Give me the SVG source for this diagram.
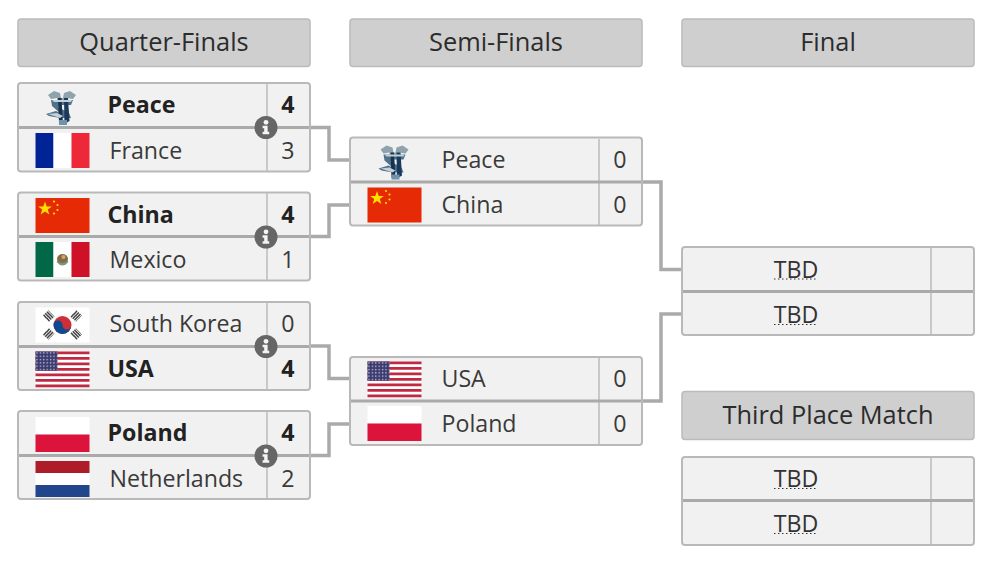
<svg xmlns="http://www.w3.org/2000/svg" width="993" height="567" viewBox="0 0 993 567">
<style>
text{font-family:"Open Sans","Noto Sans","Liberation Sans",sans-serif;fill:#3a3a3a}
.h{fill:#cfcfcf;stroke:#bbb;stroke-width:1.5}
.ht{font-size:25.4px;text-anchor:middle;fill:#2c2c2c}
.b{fill:#f1f1f1;stroke:#b9b9b9;stroke-width:2}
.d{stroke:#aaa;stroke-width:3.2;fill:none}
.v{stroke:#bbb;stroke-width:1.5;fill:none}
.n{font-size:23.2px}
.w{font-size:23.2px;font-weight:700;fill:#222}
.s{font-size:23.2px;text-anchor:middle}
.sw{font-size:23.2px;text-anchor:middle;font-weight:700;fill:#222}
.t{font-size:23.2px;text-anchor:middle;fill:#333}
.u{stroke:#333;stroke-width:1.2;stroke-dasharray:1.500 2.500}
.c{stroke:#aaa;stroke-width:3.5;fill:none}
</style>
<defs>
<g id="info"><circle r="11.500" fill="#666"/><circle cy="-5.200" r="2.400" fill="#f4f4f4"/><path d="M-3.400-1.800H1.600V4.200H3.200V6.800H-3.400V4.200H-1.800V.8H-3.400Z" fill="#f4f4f4"/></g>
<g id="logo">
<path d="M2 5 8 1 14 3 15 8H17L18 3 24 1 30 5 27 9 21 8V11H11V8L5 9Z" fill="#8ea3ae"/>
<path d="M5 10H27L25 15H14L12 17 23 23 25 28H14L3 26 0 24 10 21 14 23 6 16Z" fill="#4f7189"/>
<path d="M12 8H15.500L17 34 13 33Z" fill="#16324f"/>
<path d="M18 8H22L23.500 31 18.500 34Z" fill="#1b3a5a"/>
<path d="M6 10H26L25 12H8ZM2 24 11 23 17 26 14 28Z" fill="#c3d0d8"/>
<path d="M13 30H21L21 35H13Z" fill="#6f93ad"/>
</g>
<g id="fr"><rect width="18" height="35" fill="#002395"/><rect x="18" width="18" height="35" fill="#fff"/><rect x="36" width="18" height="35" fill="#ed2939"/></g>
<g id="cn"><rect width="54" height="35" fill="#e52a05"/><path d="M9.500 3.500 11.200 8.400 16.400 8.500 12.300 11.600 13.800 16.600 9.500 13.600 5.200 16.600 6.700 11.600 2.600 8.500 7.800 8.400Z" fill="#ffde00"/><circle cx="18.500" cy="3.500" r="1.100" fill="#ffde00"/><circle cx="22" cy="7" r="1.100" fill="#ffde00"/><circle cx="22" cy="12" r="1.100" fill="#ffde00"/><circle cx="18.500" cy="15.500" r="1.100" fill="#ffde00"/></g>
<g id="mx"><rect width="18" height="35" fill="#006847"/><rect x="18" width="18" height="35" fill="#fff"/><rect x="36" width="18" height="35" fill="#ce1126"/><ellipse cx="27" cy="17" rx="5.500" ry="5" fill="#8a6a45"/><path d="M21 20Q27 27 33 20L32 19Q27 23 22 19Z" fill="#6f9a80"/><circle cx="28" cy="15" r="2" fill="#c9a877"/></g>
<g id="kr"><rect width="54" height="35" fill="#fff"/><circle cx="27" cy="17.500" r="9" fill="#cd2e3a"/><path d="M18 17.500A4.500 4.500 0 0 1 27 17.500A4.500 4.500 0 0 0 36 17.500A9 9 0 0 1 18 17.500Z" fill="#0f4a8f"/><g stroke="#444" stroke-width="4.500" stroke-dasharray="1.500 .8"><path d="M9 9.500 14.500 4.500M12 12.500 17.500 7.500"/><path d="M39.500 4.500 45 9.500M36.500 7.500 42 12.500"/><path d="M9 25.500 14.500 30.500M12 22.500 17.500 27.500"/><path d="M39.500 30.500 45 25.500M36.500 27.500 42 22.500"/></g></g>
<pattern id="st" width="3.400" height="3.300" patternUnits="userSpaceOnUse"><rect width="3.400" height="3.300" fill="#3c3b6e"/><circle cx="1.500" cy="1.500" r=".8" fill="#b9b9d6"/></pattern>
<g id="us"><rect width="54" height="35.700" fill="#fff"/><path d="M0 1.400H54M0 6.900H54M0 12.400H54M0 17.900H54M0 23.300H54M0 28.800H54M0 34.300H54" stroke="#bf2a42" stroke-width="2.800"/><rect width="22" height="19.200" fill="url(#st)"/></g>
<g id="pl"><rect width="54" height="17.500" fill="#fff"/><rect y="17.500" width="54" height="17.500" fill="#dc143c"/></g>
<g id="nl"><rect width="54" height="12" fill="#ae1c28"/><rect y="12" width="54" height="12" fill="#fff"/><rect y="24" width="54" height="12" fill="#21468b"/></g>
</defs>
<rect width="993" height="567" fill="#fff"/>
<g id="connectors">
<path class="c" d="M310 127.500H329V160H350"/>
<path class="c" d="M310 236.500H329V205H350"/>
<path class="c" d="M310 346H329V378.500H350"/>
<path class="c" d="M310 455.500H329V424H350"/>
<path class="c" d="M642 182H661V269.500H682"/>
<path class="c" d="M642 401H661V314H682"/>
</g>
<g id="header-qf"><rect class="h" x="18" y="19" width="292" height="47.500" rx="3"/><text class="ht" x="164" y="51">Quarter-Finals</text></g>
<g id="header-sf"><rect class="h" x="350" y="19" width="292" height="47.500" rx="3"/><text class="ht" x="496" y="51">Semi-Finals</text></g>
<g id="header-final"><rect class="h" x="682" y="19" width="292" height="47.500" rx="3"/><text class="ht" x="828" y="51">Final</text></g>
<g id="header-third"><rect class="h" x="682" y="391.500" width="292" height="48" rx="3"/><text class="ht" x="828" y="424">Third Place Match</text></g>
<g id="qf1">
<rect class="b" x="18" y="83" width="292" height="88.500" rx="3"/>
<path class="v" d="M267 84V171"/><path class="d" d="M19 127.500H309"/>
<use href="#logo" x="46" y="90"/><use href="#fr" x="35.500" y="133"/>
<text class="w" x="107.500" y="113">Peace</text><text class="n" x="109.500" y="158.500">France</text>
<text class="sw" x="288" y="113">4</text><text class="s" x="288" y="158.500">3</text>
<use href="#info" x="266" y="127.500"/>
</g>
<g id="qf2">
<rect class="b" x="18" y="192.500" width="292" height="88" rx="3"/>
<path class="v" d="M267 193V280"/><path class="d" d="M19 236.500H309"/>
<use href="#cn" x="35.500" y="198"/><use href="#mx" x="35.500" y="242"/>
<text class="w" x="107.500" y="222.500">China</text><text class="n" x="109.500" y="268">Mexico</text>
<text class="sw" x="288" y="222.500">4</text><text class="s" x="288" y="268">1</text>
<use href="#info" x="266" y="237"/>
</g>
<g id="qf3">
<rect class="b" x="18" y="302" width="292" height="88" rx="3"/>
<path class="v" d="M267 303V389"/><path class="d" d="M19 346.500H309"/>
<use href="#kr" x="35.500" y="307.500"/><use href="#us" x="35.500" y="351.500"/>
<text class="n" x="109.500" y="332">South Korea</text><text class="w" x="107.500" y="377">USA</text>
<text class="s" x="288" y="332">0</text><text class="sw" x="288" y="377">4</text>
<use href="#info" x="266" y="346.500"/>
</g>
<g id="qf4">
<rect class="b" x="18" y="411" width="292" height="88" rx="3"/>
<path class="v" d="M267 412V498"/><path class="d" d="M19 455.500H309"/>
<use href="#pl" x="35.500" y="417"/><use href="#nl" x="35.500" y="461"/>
<text class="w" x="107.500" y="441">Poland</text><text class="n" x="109.500" y="487">Netherlands</text>
<text class="sw" x="288" y="441">4</text><text class="s" x="288" y="487">2</text>
<use href="#info" x="266" y="456"/>
</g>
<g id="sf1">
<rect class="b" x="350" y="137.500" width="292" height="88" rx="3"/>
<path class="v" d="M599 139V225"/><path class="d" d="M351 182H641"/>
<use href="#logo" x="378.500" y="144.500"/><use href="#cn" x="367.500" y="187.500"/>
<text class="n" x="441.500" y="168">Peace</text><text class="n" x="441.500" y="213">China</text>
<text class="s" x="620" y="168">0</text><text class="s" x="620" y="213">0</text>
</g>
<g id="sf2">
<rect class="b" x="350" y="357" width="292" height="88" rx="3"/>
<path class="v" d="M599 358V444"/><path class="d" d="M351 401H641"/>
<use href="#us" x="367.500" y="361.500"/><use href="#pl" x="367.500" y="406"/>
<text class="n" x="441.500" y="387">USA</text><text class="n" x="441.500" y="432">Poland</text>
<text class="s" x="620" y="387">0</text><text class="s" x="620" y="432">0</text>
</g>
<g id="final">
<rect class="b" x="682" y="247" width="292" height="88" rx="3"/>
<path class="v" d="M931 248V334"/><path class="d" d="M683 291.500H973"/>
<text class="t" x="796" y="278">TBD</text><line class="u" x1="774" y1="279" x2="818" y2="279"/>
<text class="t" x="796" y="323">TBD</text><line class="u" x1="774" y1="324.500" x2="818" y2="324.500"/>
</g>
<g id="third">
<rect class="b" x="682" y="457" width="292" height="88" rx="3"/>
<path class="v" d="M931 458V544"/><path class="d" d="M683 500.500H973"/>
<text class="t" x="796" y="487">TBD</text><line class="u" x1="774" y1="488.500" x2="818" y2="488.500"/>
<text class="t" x="796" y="532">TBD</text><line class="u" x1="774" y1="533.500" x2="818" y2="533.500"/>
</g>
</svg>
